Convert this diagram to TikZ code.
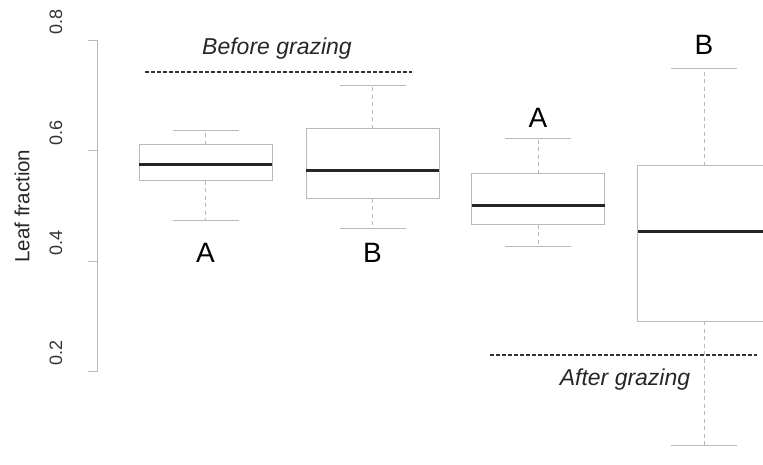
\documentclass[tikz,border=0pt]{standalone}
\usepackage{fontspec}
\setmainfont{Liberation Sans}
\usetikzlibrary{positioning}

\begin{document}
\begin{tikzpicture}[x=1pt,y=-1pt,
    frame/.style={draw=gray!55, line width=1pt},
    whisker/.style={gray!55, line width=1pt, dash pattern=on 4pt off 3.5pt},
    median/.style={black!85, line width=3pt},
    grazeline/.style={black!80, line width=1.3pt, dash pattern=on 4pt off 2pt},
    letter/.style={font=\fontsize{28}{28}\selectfont},
    note/.style={font=\itshape\fontsize{23}{23}\selectfont, text=black!85},
    ticklabel/.style={rotate=90, font=\fontsize{18}{18}\selectfont, text=black!80}]
  \useasboundingbox (0,0) rectangle (763,465);
  \clip (0,0) rectangle (763,465);

  % axis
  \draw[frame] (88,41) -- (97,41) -- (97,371) -- (88,371);
  \draw[frame] (88,151) -- (97,151);
  \draw[frame] (88,261) -- (97,261);
  \node[ticklabel] (t8) at (56,22) {0.8};
  \node[ticklabel] (t6) at (56,133) {0.6};
  \node[ticklabel] (t4) at (56,243) {0.4};
  \node[ticklabel] (t2) at (56,353) {0.2};
  \node[rotate=90, font=\fontsize{20.5}{20.5}\selectfont, text=black!85] (ylab) at (22,206) {Leaf fraction};

  % boxes: centre / upper cap / q3 / median / q1 / lower cap
  \foreach \cx/\hi/\qa/\md/\qb/\lo in {205.5/131/145/165/181/221, 372.5/86/129/171/199/229,
      538/139/174/206/225/247, 704/69/166/232/321/445} {
    \draw[whisker] (\cx,\qa) -- (\cx,\hi);
    \draw[whisker] (\cx,\qb) -- (\cx,\lo);
    \draw[frame] (\cx-33,\hi) -- (\cx+33,\hi);
    \draw[frame] (\cx-33,\lo) -- (\cx+33,\lo);
    \draw[frame, fill=white] (\cx-66.5,\qa) rectangle (\cx+66.5,\qb);
    \draw[median] (\cx-66.5,\md) -- (\cx+66.5,\md);
  }

  % group letters
  \node[letter] (a1) at (205.5,253) {A};
  \node[letter] (b1) at (372.5,253) {B};
  \node[letter] (a2) at (538,118) {A};
  \node[letter] (b2) at (704,45) {B};

  % grazing marks
  \node[note] (before) at (277,49) {Before grazing};
  \draw[grazeline] (145,72) -- (412,72);
  \draw[grazeline] (490,355) -- (757,355);
  \node[note] (after) at (625,380) {After grazing};
\end{tikzpicture}
\end{document}
